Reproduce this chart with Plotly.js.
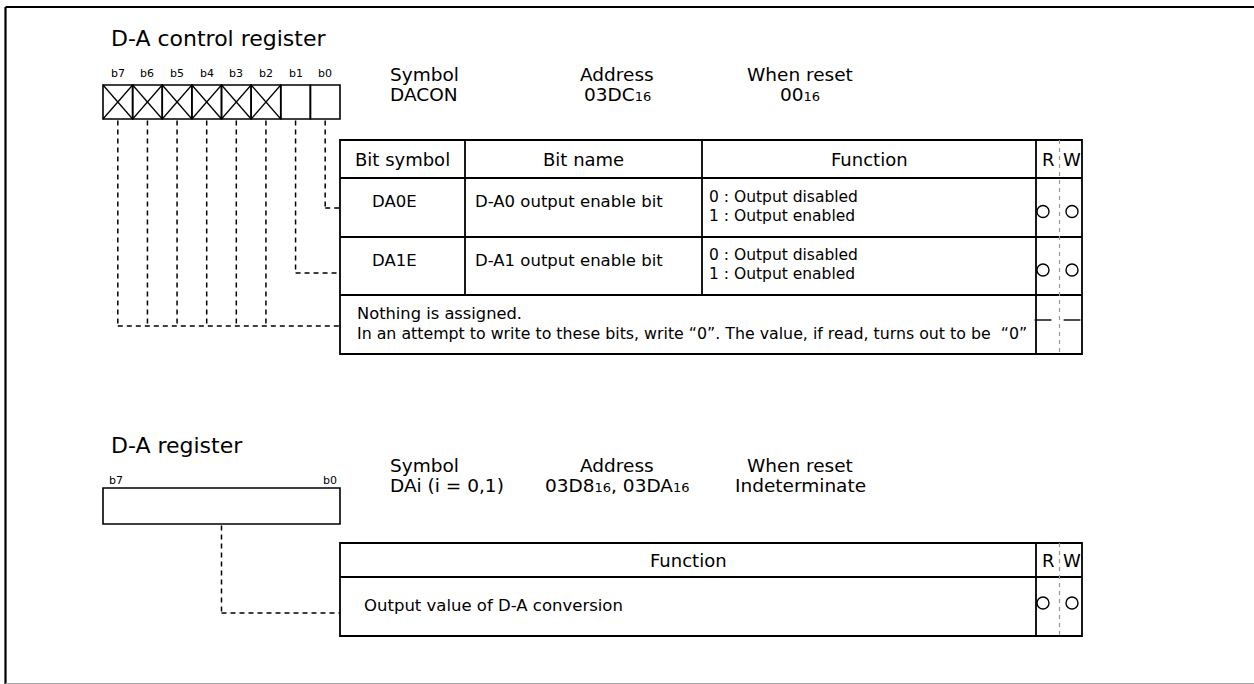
<!DOCTYPE html>
<html><head><meta charset="utf-8">
<script src="https://cdn.plot.ly/plotly-3.0.1.min.js"></script>
<style>html,body{margin:0;padding:0;background:#fff;overflow:hidden}#chart{width:1254px;height:684px}</style>
</head><body><div id="chart"></div>
<script>
// ---------------- data ----------------
const ctrlTitle = 'D-A control register';
const bitLabels = ['b7','b6','b5','b4','b3','b2','b1','b0'];
const bitReserved = [true,true,true,true,true,true,false,false];
const infoLabels = ['Symbol','Address','When reset'];
const ctrlInfo = ['DACON','03DC{16}','00{16}'];
const tableHeaders = ['Bit symbol','Bit name','Function'];
const rwHeaders = ['R','W'];
const bitSymbols = ['DA0E','DA1E'];
const bitNames = ['D-A0 output enable bit','D-A1 output enable bit'];
const bitFunctions = [['0 : Output disabled','1 : Output enabled'],['0 : Output disabled','1 : Output enabled']];
const rowSourceBits = [['b0'],['b1'],['b7','b6','b5','b4','b3','b2']];
const reservedNote = ['Nothing is assigned.','In an attempt to write to these bits, write \u201C0\u201D. The value, if read, turns out to be  \u201C0\u201D'];
const ctrlRW = [['O','O'],['O','O'],['-','-']];

const daTitle = 'D-A register';
const daEdgeLabels = ['b7','b0'];
const daInfo = ['DAi (i = 0,1)','03D8{16}, 03DA{16}','Indeterminate'];
const daHeaders = ['Function'];
const daFunctions = ['Output value of D-A conversion'];
const daRW = [['O','O']];

// ---------------- drawing helpers ----------------
const FONT = 'DejaVu Sans, Liberation Sans, Arial, sans-serif';
const BLACK = '#000';
const shapes = [];
const ann = [];
function fmt(s){ return s.replace(/\{(\d+)\}/g,'<span style="font-size:13px">$1</span>'); }
function line(x0,y0,x1,y1,w,dash,color){
  shapes.push({type:'line',xref:'x',yref:'y',x0,y0,x1,y1,line:{color:color||BLACK,width:w||1.8,dash:dash||'solid'}});
}
function rect(x0,y0,x1,y1,w){
  shapes.push({type:'rect',xref:'x',yref:'y',x0,y0,x1,y1,line:{color:BLACK,width:w||1.8},fillcolor:'rgba(0,0,0,0)'});
}
function text(t,x,y,size,anchor){
  ann.push({text:t,x,y,xref:'x',yref:'y',showarrow:false,xanchor:anchor||'center',yanchor:'middle',
    font:{family:FONT,size,color:BLACK}});
}
const DASH = '5px,4px';
const markX = [], markY = [], markSym = [];
function rwMarks(marks, y, xR, xW){
  marks.forEach((m,i)=>{ markX.push(i===0?xR:xW); markY.push(y); markSym.push(m==='O'?'circle-open':'line-ew-open'); });
}

// outer frame
line(5.5,7,1262,7,2.2);
line(5.5,7,5.5,684,2.2);
line(5.5,683.5,1262,683.5,1.2,'solid','#aaa');

// ===== D-A control register =====
text(ctrlTitle,109,38,22,'left');
const bx0 = 103, bx1 = 340, by0 = 85, by1 = 119;
const bw = (bx1-bx0)/bitLabels.length;
const bitCenter = {};
bitLabels.forEach((b,i)=>{
  const x0 = bx0+i*bw, x1 = x0+bw;
  bitCenter[b] = x0+bw/2;
  rect(x0,by0,x1,by1,1.6);
  if(bitReserved[i]){ line(x0,by0,x1,by1,1.3); line(x0,by1,x1,by0,1.3); }
  text(b,x0+bw/2,73,11);
});
// header info
const infoX = [388,617,800];
const infoAnchor = ['left','center','center'];
infoLabels.forEach((l,i)=>{ text(l,infoX[i],74,18.5,infoAnchor[i]); text(fmt(ctrlInfo[i]),infoX[i],94,18.5,infoAnchor[i]); });

// table
const cols = [340,465,702,1036,1082];
const rows = [140,178,237,295,354];
const rwMid = 1059.5, xR = 1043, xW = 1072;
rect(cols[0],rows[0],cols[4],rows[4],1.8);
rows.slice(1,4).forEach(y=>line(cols[0],y,cols[4],y,1.8));
line(cols[1],rows[0],cols[1],rows[3],1.8);
line(cols[2],rows[0],cols[2],rows[3],1.8);
line(cols[3],rows[0],cols[3],rows[4],1.8);
line(rwMid,rows[0],rwMid,rows[4],1.2,'4px,4px','#999');
tableHeaders.forEach((h,i)=>text(h,(cols[i]+cols[i+1])/2,159,18));
text(rwHeaders[0],1048,159,18); text(rwHeaders[1],1072,159,18);
bitSymbols.forEach((s,r)=>{
  const yc = (rows[r+1]+rows[r+2])/2;
  text(s,394,yc-6,16.5);
  text(bitNames[r],473,yc-6,16.5,'left');
  text(bitFunctions[r][0],707,yc-11,15.5,'left');
  text(bitFunctions[r][1],707,yc+8,15.5,'left');
  rwMarks(ctrlRW[r],yc+4,xR,xW);
});
text(reservedNote[0],355,313,16.3,'left');
text(reservedNote[1],355,333,15.8,'left');
rwMarks(ctrlRW[2],320,xR,xW);
// connectors
const rowTargetY = [208,273,326];
rowSourceBits.forEach((bits,r)=>{
  const yt = rowTargetY[r];
  let minx = Infinity;
  bits.forEach(b=>{ const x = bitCenter[b]; minx = Math.min(minx,x); line(x,by1+1.5,x,yt,1.5,DASH); });
  line(minx,yt,cols[0],yt,1.5,DASH);
});

// ===== D-A register =====
text(daTitle,109,445,22,'left');
const dx0 = 103, dx1 = 340, dy0 = 488, dy1 = 524;
rect(dx0,dy0,dx1,dy1,1.6);
text(daEdgeLabels[0],107,480,11,'left');
text(daEdgeLabels[1],339,480,11,'right');
infoLabels.forEach((l,i)=>{ text(l,infoX[i],465,18.5,infoAnchor[i]); text(fmt(daInfo[i]),infoX[i],485,18.5,infoAnchor[i]); });
const dcols = [340,1036,1082];
const drows = [543,577,636];
rect(dcols[0],drows[0],dcols[2],drows[2],1.8);
line(dcols[0],drows[1],dcols[2],drows[1],1.8);
line(dcols[1],drows[0],dcols[1],drows[2],1.8);
line(rwMid,drows[0],rwMid,drows[2],1.2,'4px,4px','#999');
text(daHeaders[0],(dcols[0]+dcols[1])/2,560,18);
text(rwHeaders[0],1048,560,18); text(rwHeaders[1],1072,560,18);
text(daFunctions[0],362,605,16.5,'left');
rwMarks(daRW[0],603,xR,xW);
const dcx = (dx0+dx1)/2;
line(dcx,dy1+1.5,dcx,613,1.5,DASH);
line(dcx,613,dcols[0],613,1.5,DASH);

const traces = [{
  type:'scatter',mode:'markers',x:markX,y:markY,hoverinfo:'skip',showlegend:false,
  marker:{symbol:markSym,size:12,color:BLACK,line:{color:BLACK,width:1.4}}
}];
const layout = {
  width:1254,height:684,margin:{l:0,r:0,t:0,b:0},
  paper_bgcolor:'#fff',plot_bgcolor:'#fff',showlegend:false,
  xaxis:{range:[0,1254],visible:false,fixedrange:true},
  yaxis:{range:[684,0],visible:false,fixedrange:true},
  shapes,annotations:ann
};
Plotly.newPlot('chart',traces,layout,{staticPlot:true,displayModeBar:false});
</script></body></html>
